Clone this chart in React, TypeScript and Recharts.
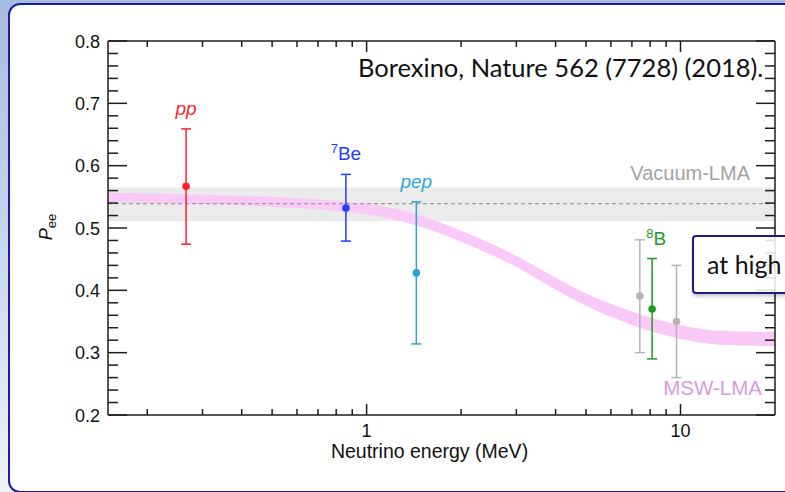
import React from 'react';
import { ComposedChart, Area, Line, Scatter, ErrorBar, XAxis, YAxis, ReferenceDot } from 'recharts';

// MSW-LMA band (energy in MeV, lower / upper edge of Pee)
const bandEnergy = [0.15, 0.3, 0.5, 0.86, 1.1, 1.55, 1.89, 2.42, 3.09, 3.93, 5.05, 6.43, 8.2, 10.5, 13.4, 20];
const bandLow = [0.5415, 0.5385, 0.5342, 0.5258, 0.5185, 0.499, 0.483, 0.46, 0.434, 0.4035, 0.374, 0.3515, 0.333, 0.32, 0.3128, 0.3105];
const bandHigh = [0.5565, 0.5535, 0.5498, 0.5422, 0.5355, 0.517, 0.501, 0.478, 0.452, 0.4225, 0.394, 0.3725, 0.355, 0.342, 0.3352, 0.3335];

// Vacuum-LMA band
const vacuumEnergy = [0.15, 20];
const vacuumLow = 0.511;
const vacuumHigh = 0.565;
const vacuumMid = 0.539;

// measured points
const pointNames = ['pp', '7Be', 'pep', '', '8B', ''];
const pointEnergy = [0.266, 0.859, 1.44, 7.42, 8.12, 9.71];
const pointValue = [0.567, 0.532, 0.428, 0.391, 0.37, 0.35];
const pointLow = [0.474, 0.479, 0.314, 0.3, 0.29, 0.26];
const pointHigh = [0.659, 0.586, 0.542, 0.481, 0.451, 0.44];
const pointColors = ['#ff2330', '#1f3cff', '#2ea3d5', '#b4b4b4', '#1c9a24', '#b4b4b4'];

// ticks
const xTicks = [0.2, 0.3, 0.4, 0.5, 0.6, 0.7, 0.8, 0.9, 1, 2, 3, 4, 5, 6, 7, 8, 9, 10];
const yTicks = [
  0.2, 0.22, 0.24, 0.26, 0.28, 0.3, 0.32, 0.34, 0.36, 0.38, 0.4, 0.42, 0.44, 0.46, 0.48,
  0.5, 0.52, 0.54, 0.56, 0.58, 0.6, 0.62, 0.64, 0.66, 0.68, 0.7, 0.72, 0.74, 0.76, 0.78, 0.8,
];

const bandData = bandEnergy.map((e, i) => ({ e, range: [bandLow[i], bandHigh[i]] }));
const vacuumBand = vacuumEnergy.map((e) => ({ e, range: [vacuumLow, vacuumHigh] }));
const vacuumLine = vacuumEnergy.map((e) => ({ e, v: vacuumMid }));
const points = pointEnergy.map((e, i) => ({
  e,
  v: pointValue[i],
  err: [pointValue[i] - pointLow[i], pointHigh[i] - pointValue[i]],
}));

const AX = '#1e1e1e';
const FONT = '"Liberation Sans", Arial, sans-serif';
const SLIDE_FONT = 'Lato, "Open Sans", sans-serif';

const isDecade = (v: number) => Math.abs(Math.log10(v) - Math.round(Math.log10(v))) < 1e-9;
const isMajorY = (v: number) => Math.abs(v * 10 - Math.round(v * 10)) < 1e-6;

const BottomTick = (props: any) => {
  const { x, y, payload } = props;
  const major = isDecade(payload.value);
  return (
    <g>
      <line x1={x} x2={x} y1={y} y2={y - (major ? 11 : 6)} stroke={AX} strokeWidth={1.5} />
      {major && (
        <text x={x} y={y + 22} textAnchor="middle" fontFamily={FONT} fontSize={18} fill="#111">
          {payload.value}
        </text>
      )}
    </g>
  );
};

const TopTick = (props: any) => {
  const { x, y, payload } = props;
  const major = isDecade(payload.value);
  return <line x1={x} x2={x} y1={y} y2={y + (major ? 11 : 6)} stroke={AX} strokeWidth={1.5} />;
};

const LeftTick = (props: any) => {
  const { x, y, payload } = props;
  const major = isMajorY(payload.value);
  return (
    <g>
      <line x1={x} x2={x + (major ? 19 : 10)} y1={y} y2={y} stroke={AX} strokeWidth={1.5} />
      {major && (
        <text x={x - 8} y={y + 6.5} textAnchor="end" fontFamily={FONT} fontSize={18} fill="#111">
          {payload.value.toFixed(1)}
        </text>
      )}
    </g>
  );
};

const RightTick = (props: any) => {
  const { x, y, payload } = props;
  const major = isMajorY(payload.value);
  return <line x1={x} x2={x - (major ? 19 : 10)} y1={y} y2={y} stroke={AX} strokeWidth={1.5} />;
};

const YTitle = (props: any) => {
  const { viewBox } = props;
  const cx = 52;
  const cy = viewBox.y + viewBox.height / 2 - 1;
  return (
    <text
      x={cx}
      y={cy}
      transform={`rotate(-90, ${cx}, ${cy})`}
      textAnchor="middle"
      fontFamily={FONT}
      fill="#111"
    >
      <tspan fontSize={18} fontStyle="italic">P</tspan>
      <tspan fontSize={13} dy={4}>ee</tspan>
    </text>
  );
};

const XTitle = (props: any) => {
  const { viewBox } = props;
  return (
    <text
      x={viewBox.x + viewBox.width / 2 - 12}
      y={viewBox.y + 43}
      textAnchor="middle"
      fontFamily={FONT}
      fontSize={19.5}
      fill="#111"
    >
      Neutrino energy (MeV)
    </text>
  );
};

const PointLabel = (props: any) => {
  const { viewBox, name, color } = props;
  const x = viewBox.x + (name === '8B' ? 4 : 0);
  const y = viewBox.y - 14;
  if (name === '7Be' || name === '8B') {
    const sup = name === '7Be' ? '7' : '8';
    const rest = name === '7Be' ? 'Be' : 'B';
    return (
      <text x={x} y={y} textAnchor="middle" fontFamily={FONT} fill={color}>
        <tspan fontSize={13} dy={-7}>{sup}</tspan>
        <tspan fontSize={19} dy={7}>{rest}</tspan>
      </text>
    );
  }
  return (
    <text x={x} y={y} textAnchor="middle" fontFamily={FONT} fontSize={19} fontStyle="italic" fill={color}>
      {name}
    </text>
  );
};

export default function App() {
  return (
    <div
      style={{
        position: 'absolute',
        left: 0,
        top: 0,
        width: 785,
        height: 492,
        overflow: 'hidden',
        background: 'linear-gradient(to bottom, #a3bde0, #eef3fa)',
      }}
    >
      <div
        style={{
          position: 'absolute',
          left: 8,
          top: 3,
          width: 820,
          height: 486,
          border: '2px solid #1c1ca0',
          borderRadius: 12,
          background: '#fff',
        }}
      />
      <div style={{ position: 'absolute', left: 0, top: 0 }}>
        <ComposedChart width={785} height={492} margin={{ top: 40, right: 0, bottom: 17, left: 48 }}>
          <XAxis
            dataKey="e"
            type="number"
            scale="log"
            domain={[0.15, 20]}
            allowDataOverflow
            ticks={xTicks}
            interval={0}
            tickSize={0}
            tickMargin={0}
            tick={<BottomTick />}
            height={60}
            axisLine={{ stroke: AX, strokeWidth: 1.5 }}
            label={<XTitle />}
          />
          <XAxis
            xAxisId="top"
            orientation="top"
            dataKey="e"
            type="number"
            scale="log"
            domain={[0.15, 20]}
            allowDataOverflow
            ticks={xTicks}
            interval={0}
            tickSize={0}
            tickMargin={0}
            tick={<TopTick />}
            height={1}
            axisLine={{ stroke: AX, strokeWidth: 1.5 }}
          />
          <YAxis
            dataKey="v"
            type="number"
            domain={[0.2, 0.8]}
            allowDataOverflow
            ticks={yTicks}
            interval={0}
            tickSize={0}
            tickMargin={0}
            tick={<LeftTick />}
            width={60}
            axisLine={{ stroke: AX, strokeWidth: 1.5 }}
            label={<YTitle />}
          />
          <YAxis
            yAxisId="right"
            orientation="right"
            type="number"
            domain={[0.2, 0.8]}
            allowDataOverflow
            ticks={yTicks}
            interval={0}
            tickSize={0}
            tickMargin={0}
            tick={<RightTick />}
            width={10}
            axisLine={{ stroke: AX, strokeWidth: 1.5 }}
          />
          <Area
            data={vacuumBand}
            dataKey="range"
            type="linear"
            stroke="none"
            fill="#ebebeb"
            fillOpacity={1}
            isAnimationActive={false}
          />
          <Area
            data={bandData}
            dataKey="range"
            type="monotone"
            stroke="none"
            fill="#fac9f8"
            fillOpacity={1}
            isAnimationActive={false}
          />
          <Line
            data={vacuumLine}
            dataKey="v"
            stroke="#9a9a9a"
            strokeWidth={1.2}
            strokeDasharray="4 3"
            dot={false}
            isAnimationActive={false}
          />
          {points.map((p, i) => (
            <Scatter
              key={i}
              data={[p]}
              dataKey="v"
              fill={pointColors[i]}
              isAnimationActive={false}
              shape={(s: any) => <circle cx={s.cx} cy={s.cy} r={3.8} fill={pointColors[i]} />}
            >
              <ErrorBar dataKey="err" direction="y" width={5} stroke={pointColors[i]} strokeWidth={1.5} />
            </Scatter>
          ))}
          {pointNames.map((n, i) =>
            n ? (
              <ReferenceDot
                key={'l' + i}
                x={pointEnergy[i]}
                y={pointHigh[i]}
                r={0}
                fill="none"
                stroke="none"
                label={<PointLabel name={n} color={pointColors[i]} />}
              />
            ) : null
          )}
        </ComposedChart>
      </div>
      <div
        style={{
          position: 'absolute',
          right: 785 - 750,
          top: 162,
          fontFamily: FONT,
          fontSize: 20,
          color: '#a2a2a2',
        }}
      >
        Vacuum-LMA
      </div>
      <div
        style={{
          position: 'absolute',
          right: 785 - 762,
          top: 376,
          fontFamily: FONT,
          fontSize: 20.5,
          color: '#d89bd9',
        }}
      >
        MSW-LMA
      </div>
      <div
        style={{
          position: 'absolute',
          left: 358,
          top: 52,
          fontFamily: SLIDE_FONT,
          fontSize: 25.5,
          color: '#111',
          whiteSpace: 'nowrap',
        }}
      >
        Borexino, Nature 562 (7728) (2018).
      </div>
      <div
        style={{
          position: 'absolute',
          left: 692,
          top: 235,
          width: 120,
          height: 59,
          border: '2.5px solid #1a1a90',
          borderRadius: 4,
          background: 'rgba(255,255,255,0.85)',
          boxShadow: '0 3px 3px rgba(0,0,0,0.18)',
          fontFamily: SLIDE_FONT,
          fontSize: 25,
          color: '#111',
          boxSizing: 'border-box',
          paddingLeft: 13,
          lineHeight: '55px',
          whiteSpace: 'nowrap',
        }}
      >
        at high
      </div>
    </div>
  );
}
